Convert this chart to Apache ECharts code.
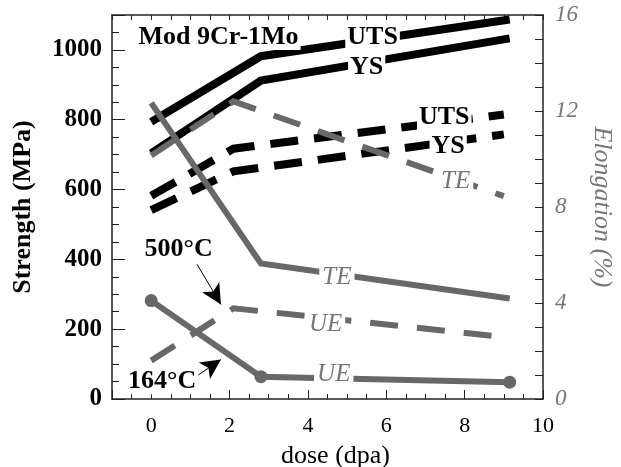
<!DOCTYPE html>
<html>
<head>
<meta charset="utf-8">
<script src="https://cdn.jsdelivr.net/npm/echarts@6/dist/echarts.min.js"></script>
<style>
html, body { margin: 0; background: #fff; }
#main { width: 621px; height: 467px; }
</style>
</head>
<body>
<div id="main"></div>
<script>
// doses (dpa)
var doseLow = [0, 2.8, 9.15];   // 164°C
var doseHigh = [0, 2.1, 9.0];   // 500°C

// strength, MPa
var utsLow = [794, 982, 1087];
var ysLow = [704, 912, 1033];
var utsHigh = [582, 717, 815];
var ysHigh = [541, 652, 758];

// elongation, %
var teLow = [12.34, 5.65, 4.19];
var ueLow = [4.1, 0.93, 0.70];
var teHigh = [10.15, 12.4, 8.45];
var ueHigh = [1.6, 3.78, 2.58];

// tick labels
var doseTicks = [0, 2, 4, 6, 8, 10];
var strengthTicks = [0, 200, 400, 600, 800, 1000];
var elongTicks = [0, 4, 8, 12, 16];

// annotations: [text, dose, value]
var strengthNotes = [
  ['Mod 9Cr-1Mo', 1.72, 1037],
  ['UTS', 5.65, 1037],
  ['YS', 5.5, 950],
  ['UTS', 7.48, 807],
  ['YS', 7.58, 725],
  ['500°C', 0.70, 429],
  ['164°C', 0.28, 51]
];
var elongNotes = [
  ['TE', 7.77, 9.07],
  ['TE', 4.74, 5.07],
  ['UE', 4.45, 3.10],
  ['UE', 4.66, 1.02]
];
var arrows = [
  [[1.17, 386], [1.78, 271]],
  [[1.10, 61], [1.78, 113]]
];

var FONT = 'Liberation Serif';
var GRAY = '#686868';
var AXIS = '#222';

function pairs(xs, ys) {
  return xs.map(function(x, i) { return [x, ys[i]]; });
}
function notes(list) {
  return list.map(function(n) { return { name: n[0], value: [n[1], n[2]] }; });
}

var chart = echarts.init(document.getElementById('main'));

var axisLine = { show: true, onZero: false, lineStyle: { color: AXIS, width: 1.5 } };
var noLine = { show: false, onZero: false };

var options = {
  animation: false,
  backgroundColor: '#fff',
  grid: { left: 112, right: 78, top: 15, bottom: 68, outerBoundsMode: 'none', containLabel: false },

  xAxis: [
    {
      type: 'value', min: -1, max: 10, interval: 0.5, position: 'bottom',
      axisLine: axisLine,
      axisTick: { inside: true, length: 5, lineStyle: { color: AXIS } },
      axisLabel: { show: false },
      splitLine: { show: false }
    },
    {
      type: 'value', min: -1, max: 10, minInterval: 2, maxInterval: 2, position: 'bottom',
      axisLine: noLine,
      axisTick: { inside: true, length: 9, lineStyle: { color: AXIS } },
      axisLabel: {
        margin: 16, fontFamily: FONT, fontSize: 22, color: '#000',
        formatter: function(v) { return doseTicks.indexOf(v) >= 0 ? String(v) : ''; }
      },
      splitLine: { show: false },
      name: 'dose (dpa)', nameLocation: 'middle', nameGap: 44,
      nameTextStyle: { fontFamily: FONT, fontSize: 26, color: '#000', padding: [0, 0, 0, 16] }
    },
    {
      type: 'value', min: -1, max: 10, interval: 0.5, position: 'top',
      axisLine: axisLine,
      axisTick: { inside: true, length: 5, lineStyle: { color: AXIS } },
      axisLabel: { show: false },
      splitLine: { show: false }
    }
  ],

  yAxis: [
    {
      type: 'value', min: 0, max: 1100, interval: 50, position: 'left',
      axisLine: axisLine,
      axisTick: { inside: true, length: 7, lineStyle: { color: AXIS } },
      axisLabel: { show: false },
      splitLine: { show: false }
    },
    {
      type: 'value', min: 0, max: 1100, minInterval: 200, maxInterval: 200, position: 'left',
      axisLine: noLine,
      axisTick: { inside: true, length: 13, lineStyle: { color: AXIS } },
      axisLabel: {
        margin: 10, fontFamily: FONT, fontWeight: 'bold', fontSize: 25, color: '#000',
        formatter: function(v) { return strengthTicks.indexOf(v) >= 0 ? String(v) : ''; }
      },
      splitLine: { show: false },
      name: 'Strength (MPa)', nameLocation: 'middle', nameGap: 76,
      nameTextStyle: { fontFamily: FONT, fontWeight: 'bold', fontSize: 26, color: '#000' }
    },
    {
      type: 'value', min: 0, max: 16, interval: 4, position: 'right',
      axisLine: axisLine,
      axisTick: { inside: true, length: 8, lineStyle: { color: AXIS } },
      minorTick: { show: true, splitNumber: 4, length: 8, lineStyle: { color: AXIS } },
      axisLabel: {
        margin: 12, fontFamily: FONT, fontStyle: 'italic', fontSize: 23, color: '#777',
        formatter: function(v) { return elongTicks.indexOf(v) >= 0 ? String(v) : ''; }
      },
      splitLine: { show: false },
      name: 'Elongation (%)', nameLocation: 'middle', nameGap: 45, nameRotate: -90,
      nameTextStyle: { fontFamily: FONT, fontStyle: 'italic', fontSize: 26, color: '#777' }
    }
  ],

  series: [
    {
      name: 'UTS 164', type: 'line', yAxisIndex: 0, data: pairs(doseLow, utsLow),
      symbol: 'none', lineStyle: { color: '#000', width: 8, join: 'miter' }
    },
    {
      name: 'YS 164', type: 'line', yAxisIndex: 0, data: pairs(doseLow, ysLow),
      symbol: 'none', lineStyle: { color: '#000', width: 8, join: 'miter' }
    },
    {
      name: 'UTS 500', type: 'line', yAxisIndex: 0, data: pairs(doseHigh, utsHigh),
      symbol: 'none', lineStyle: { color: '#000', width: 8, type: [28, 16], join: 'miter' }
    },
    {
      name: 'YS 500', type: 'line', yAxisIndex: 0, data: pairs(doseHigh, ysHigh),
      symbol: 'none', lineStyle: { color: '#000', width: 8, type: [28, 16], join: 'miter' }
    },
    {
      name: 'TE 164', type: 'line', yAxisIndex: 2, data: pairs(doseLow, teLow),
      symbol: 'none', lineStyle: { color: GRAY, width: 6, join: 'miter' }
    },
    {
      name: 'UE 164', type: 'line', yAxisIndex: 2, data: pairs(doseLow, ueLow),
      symbol: 'circle', symbolSize: 13, showAllSymbol: true,
      itemStyle: { color: GRAY },
      lineStyle: { color: GRAY, width: 6, join: 'miter' }
    },
    {
      name: 'TE 500', type: 'line', yAxisIndex: 2, data: pairs(doseHigh, teHigh),
      symbol: 'none', lineStyle: { color: GRAY, width: 6, type: [28, 19], join: 'miter' }
    },
    {
      name: 'UE 500', type: 'line', yAxisIndex: 2, data: pairs(doseHigh, ueHigh),
      symbol: 'none', lineStyle: { color: GRAY, width: 6, type: [28, 19], join: 'miter' }
    },
    {
      name: 'strength notes', type: 'scatter', yAxisIndex: 0, z: 10,
      data: notes(strengthNotes), symbolSize: 1,
      itemStyle: { color: 'rgba(0,0,0,0)', opacity: 1 },
      label: {
        show: true, position: 'inside', formatter: '{b}', opacity: 1,
        fontFamily: FONT, fontWeight: 'bold', fontSize: 26, color: '#000',
        backgroundColor: '#fff', padding: [0, 2]
      },
      markLine: {
        silent: true, symbol: ['none', 'arrow'], symbolSize: [15, 20],
        label: { show: false },
        lineStyle: { color: '#000', width: 1, type: 'solid', opacity: 1 },
        data: arrows.map(function(a) { return [{ coord: a[0] }, { coord: a[1] }]; })
      }
    },
    {
      name: 'elongation notes', type: 'scatter', yAxisIndex: 2, z: 10,
      data: notes(elongNotes), symbolSize: 1,
      itemStyle: { color: 'rgba(0,0,0,0)', opacity: 1 },
      label: {
        show: true, position: 'inside', formatter: '{b}', opacity: 1,
        fontFamily: FONT, fontStyle: 'italic', fontSize: 25, color: '#777',
        backgroundColor: '#fff', padding: [0, 3]
      }
    }
  ]
};
chart.setOption(options);
</script>
</body>
</html>
